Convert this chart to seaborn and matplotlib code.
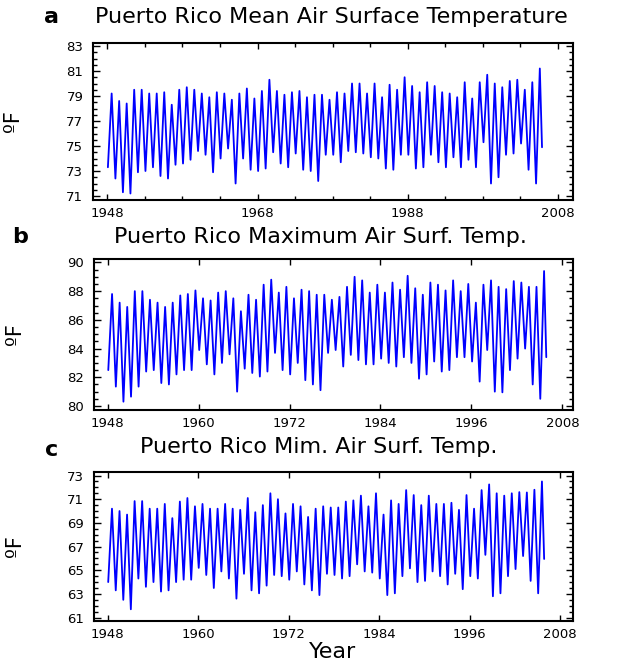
import matplotlib
matplotlib.use("Agg")
import matplotlib.pyplot as plt
from matplotlib.ticker import FixedLocator, MultipleLocator
import numpy as np
import pandas as pd
import seaborn as sns

sns.set_style("ticks")
plt.rcParams["font.family"] = ["DejaVu Sans"]
plt.rcParams["text.color"] = "black"
plt.rcParams["axes.labelcolor"] = "black"
plt.rcParams["xtick.color"] = "black"
plt.rcParams["ytick.color"] = "black"

# Yearly seasonal extremes (winter low, summer high), 1948-2005, in deg F
years = list(range(1948, 2006))

mean_lows = [73.3, 72.4, 71.3, 71.2, 72.9, 73.0, 73.3, 72.6, 72.4, 73.5,
             73.6, 73.9, 74.6, 74.3, 72.9, 74.0, 74.8, 72.0, 74.0, 73.1,
             73.0, 73.2, 74.5, 73.6, 73.3, 74.4, 73.1, 73.0, 72.2, 74.3,
             74.3, 73.7, 74.6, 74.5, 74.4, 74.1, 74.0, 73.2, 73.1, 74.3,
             74.3, 73.2, 73.3, 74.3, 73.7, 73.3, 74.1, 73.3, 73.9, 73.3,
             75.3, 72.0, 72.5, 74.3, 74.4, 75.2, 73.1, 72.0]
mean_highs = [79.2, 78.6, 78.4, 79.5, 79.5, 79.2, 79.2, 79.3, 78.3, 79.5,
              79.7, 79.5, 79.2, 78.9, 79.3, 79.2, 78.7, 79.2, 79.6, 78.8,
              79.4, 80.3, 79.4, 79.1, 79.3, 79.4, 78.9, 79.1, 79.1, 78.7,
              79.3, 79.2, 80.0, 80.0, 79.2, 80.0, 78.9, 79.9, 79.5, 80.5,
              79.8, 79.3, 80.1, 79.8, 79.3, 79.2, 78.9, 80.1, 78.8, 80.1,
              80.7, 80.0, 79.7, 80.2, 80.3, 79.5, 80.1, 81.2]
mean_last = 74.9

max_lows = [82.5, 81.35, 80.3, 80.65, 81.35, 82.4, 82.5, 81.6, 81.5, 82.2,
            82.5, 82.5, 83.9, 82.9, 82.2, 83.0, 83.6, 81.0, 82.6, 82.3,
            82.05, 82.4, 83.7, 82.5, 82.2, 83.0, 81.8, 81.5, 81.1, 83.7,
            83.9, 82.75, 83.56, 83.2, 82.9, 82.9, 83.3, 83.0, 82.75, 83.4,
            83.0, 81.9, 82.2, 83.1, 82.4, 82.5, 83.4, 83.4, 83.1, 81.7,
            83.9, 81.0, 80.95, 82.5, 83.3, 84.0, 81.5, 80.5]
max_highs = [87.8, 87.2, 86.9, 88.0, 88.0, 87.4, 87.2, 86.9, 87.2, 87.7,
             87.8, 88.05, 87.5, 87.35, 87.9, 88.0, 87.5, 86.6, 87.75, 87.4,
             88.45, 88.8, 87.9, 88.3, 87.5, 88.1, 88.0, 87.75, 87.75, 87.4,
             87.6, 88.3, 89.0, 88.75, 87.9, 88.45, 87.9, 88.6, 88.1, 89.07,
             88.2, 87.75, 88.6, 88.45, 88.05, 88.75, 88.0, 88.5, 87.2, 88.45,
             88.75, 88.3, 88.14, 88.7, 88.6, 88.3, 88.3, 89.4]
max_last = 83.4

min_lows = [64.0, 63.3, 62.5, 61.7, 64.3, 63.6, 64.0, 63.2, 63.3, 64.0,
            64.2, 64.2, 65.2, 64.6, 63.5, 64.9, 64.3, 62.6, 64.7, 63.3,
            63.05, 63.7, 64.6, 64.5, 64.2, 64.9, 63.8, 63.3, 62.9, 64.7,
            64.6, 64.3, 64.5, 65.5, 64.9, 64.8, 64.3, 62.9, 63.05, 64.5,
            65.16, 64.0, 64.1, 64.9, 64.5, 63.8, 64.7, 63.4, 64.5, 64.3,
            66.3, 62.8, 63.05, 64.5, 65.1, 66.2, 64.1, 63.05]
min_highs = [70.2, 70.0, 69.7, 70.84, 70.84, 70.2, 70.2, 70.6, 69.4, 70.8,
             71.1, 70.4, 70.6, 70.2, 70.2, 70.6, 70.2, 70.1, 71.1, 69.9,
             70.5, 71.5, 71.0, 69.8, 70.6, 70.4, 69.5, 70.2, 70.4, 70.3,
             70.3, 70.8, 70.9, 71.3, 70.4, 71.5, 69.7, 70.9, 70.6, 71.77,
             71.35, 70.5, 71.3, 70.6, 70.6, 70.7, 70.1, 71.35, 70.2, 71.77,
             72.25, 71.5, 71.3, 71.5, 71.6, 71.57, 71.8, 72.5]
min_last = 65.95

# Month of the seasonal low (Feb) and high (Aug), and of the final reading
LOW_MONTH, HIGH_MONTH = 2, 8
LAST_DATE = 2005 + 10.5 / 12


def seasonal_frame(lows, highs, last):
    x, y = [], []
    for yr, lo, hi in zip(years, lows, highs):
        x += [yr + (LOW_MONTH - 1) / 12, yr + (HIGH_MONTH - 1) / 12]
        y += [lo, hi]
    x.append(LAST_DATE)
    y.append(last)
    return pd.DataFrame({"year": x, "temp": y})


W, H = 618, 662
fig = plt.figure(figsize=(W / 100, H / 100), dpi=100)


def px_axes(left, top, right, bottom):
    return fig.add_axes([left / W, 1 - bottom / H, (right - left) / W, (bottom - top) / H])


panels = [
    dict(df=seasonal_frame(mean_lows, mean_highs, mean_last),
         box=(93, 43, 573, 200), ylim=(70.68, 83.24), yticks=np.arange(71, 84, 2),
         xlim=(1946.1, 2010.0), xmajor=[1948, 1968, 1988, 2008],
         xminor=list(range(1953, 2008, 5))),
    dict(df=seasonal_frame(max_lows, max_highs, max_last),
         box=(94, 259, 573, 410), ylim=(79.72, 90.24), yticks=np.arange(80, 91, 2),
         xlim=(1946.2, 2009.4), xmajor=[1948, 1960, 1972, 1984, 1996, 2008],
         xminor=[]),
    dict(df=seasonal_frame(min_lows, min_highs, min_last),
         box=(94, 472, 573, 621), ylim=(60.71, 73.3), yticks=np.arange(61, 74, 2),
         xlim=(1946.2, 2009.7), xmajor=[1948, 1960, 1972, 1984, 1996, 2008],
         xminor=[]),
]

for p in panels:
    ax = px_axes(*p["box"])
    sns.lineplot(data=p["df"], x="year", y="temp", ax=ax, color="#0000ff",
                 linewidth=1.3, estimator=None, sort=False)
    ax.set_xlim(*p["xlim"])
    ax.set_ylim(*p["ylim"])
    ax.set_xticks(p["xmajor"])
    ax.set_xticklabels([str(v) for v in p["xmajor"]])
    ax.xaxis.set_minor_locator(FixedLocator(p["xminor"]))
    ax.set_yticks(p["yticks"])
    ax.set_yticklabels([str(int(v)) for v in p["yticks"]])
    ax.yaxis.set_minor_locator(MultipleLocator(0.5))
    ax.tick_params(which="both", direction="in", top=True, right=True,
                   colors="black", labelcolor="black", width=1.0)
    ax.tick_params(axis="x", which="major", length=4, pad=5, labelsize=9.5)
    ax.tick_params(axis="x", which="minor", length=3)
    ax.tick_params(axis="y", which="major", length=5, pad=7, labelsize=9.5)
    ax.tick_params(axis="y", which="minor", length=3)
    for s in ax.spines.values():
        s.set_linewidth(1.5)
        s.set_color("black")
    ax.set_xlabel("")
    ax.set_ylabel("ºF", fontsize=15, rotation=90, color="black")
    ax.yaxis.set_label_coords(-0.145, 0.5)


def fx(v):
    return v / W


def fy(v):
    return 1 - v / H


title_kw = dict(fontsize=16, va="center", ha="center", color="black")
letter_kw = dict(fontsize=16, fontweight="bold", va="center", ha="left", color="black")

fig.text(fx(44), fy(17), "a", **letter_kw)
fig.text(fx(331), fy(17), "Puerto Rico Mean Air Surface Temperature", **title_kw)
fig.text(fx(12), fy(237), "b", **letter_kw)
fig.text(fx(320), fy(237), "Puerto Rico Maximum Air Surf. Temp.", **title_kw)
fig.text(fx(45), fy(450), "c", **letter_kw)
fig.text(fx(319), fy(447), "Puerto Rico Mim. Air Surf. Temp.", **title_kw)
fig.text(fx(333), fy(652), "Year", fontsize=16, va="center", ha="center", color="black")

fig.savefig("out.png", dpi=100)
